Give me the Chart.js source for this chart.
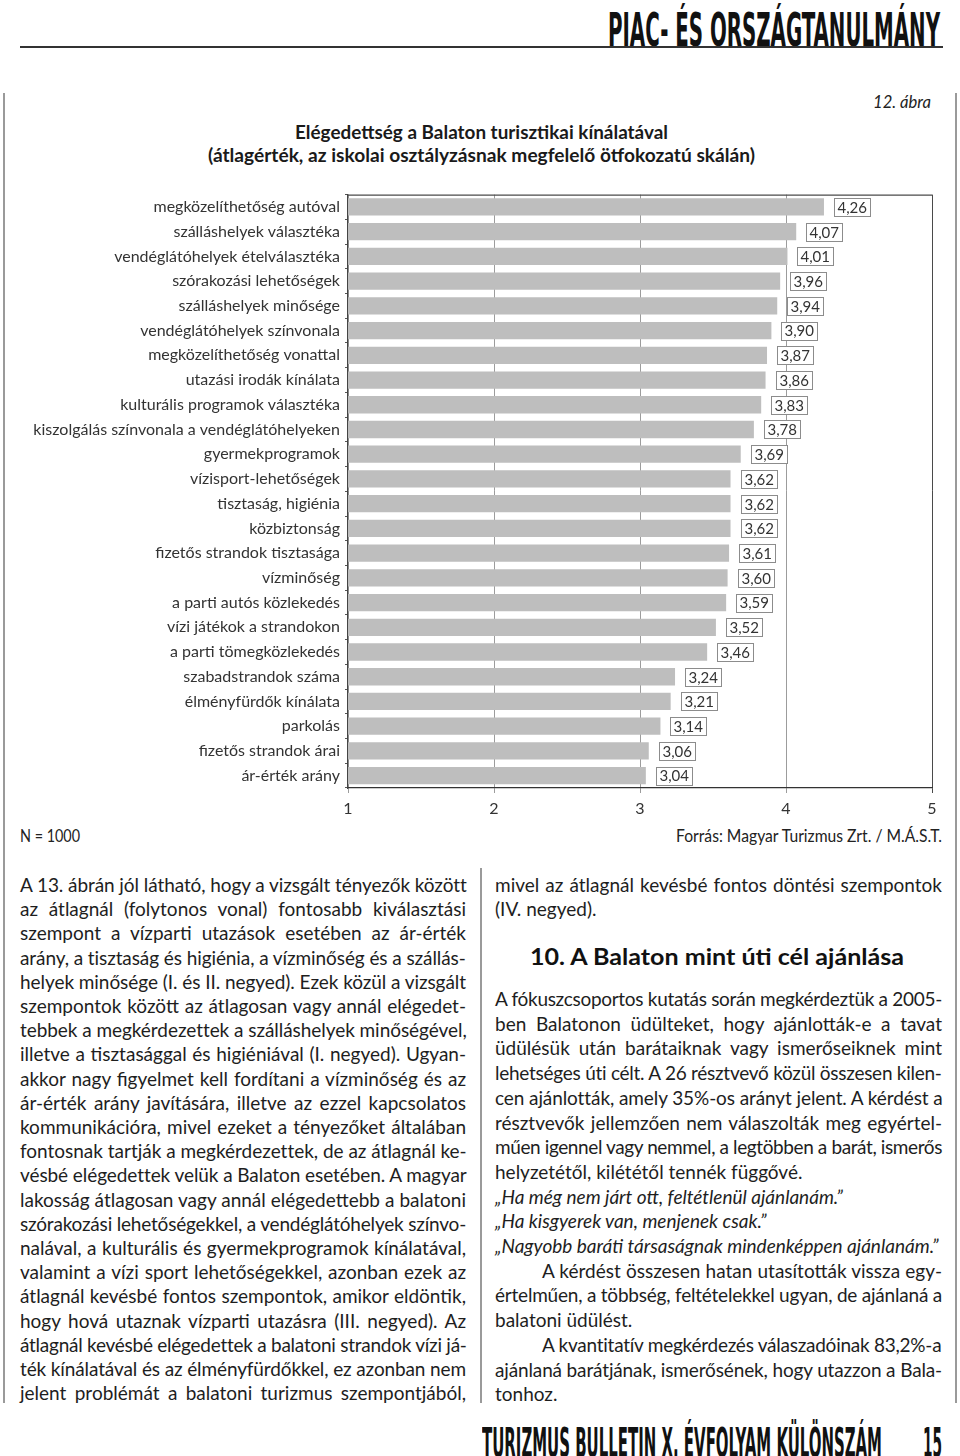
<!DOCTYPE html>
<html lang="hu">
<head>
<meta charset="utf-8">
<title>Elégedettség a Balaton turisztikai kínálatával</title>
<script src="https://cdn.jsdelivr.net/npm/chart.js@4.4.1/dist/chart.umd.min.js"></script>
<style>
  html, body { margin: 0; padding: 0; background: #fff; }
  body { width: 960px; height: 1456px; position: relative; overflow: hidden;
         font-family: Lato, "Open Sans", sans-serif; color: #1e1e1e; }
  .abs { position: absolute; white-space: nowrap; transform-origin: 0 50%; }
  .cond { font-family: "Liberation Sans Narrow", "DejaVu Sans Condensed", "DejaVu Sans", sans-serif;
          font-weight: bold; line-height: 1; color: #111; }
  .vline { position: absolute; width: 2px; background: #9a9a9a; }
  .col { position: absolute; font-size: 19px; }
  .ln { white-space: nowrap; }
  .ln span { display: inline-block; }
  .ind { padding-left: 47px; }
  .it { font-style: italic; }
  #chartBox { position: absolute; left: 0; top: 180px; }
</style>
</head>
<body>

<!-- page header -->
<div class="abs cond" data-w="332" style="left:608px; top:7px; font-size:46px;">PIAC- ÉS ORSZÁGTANULMÁNY</div>
<div style="position:absolute; left:20px; top:46px; width:923px; height:2px; background:#333;"></div>

<!-- frame lines -->
<div class="vline" style="left:3px; top:93px; height:1310px;"></div>
<div class="vline" style="left:955px; top:93px; height:1310px;"></div>
<div class="vline" style="left:480px; top:868px; height:535px;"></div>

<!-- figure heading -->
<div class="abs" data-w="58" style="left:873px; top:91px; font-size:18px; line-height:20px; font-style:italic; color:#222;">12. ábra</div>
<div class="abs" data-w="373" style="left:295px; top:122px; font-size:18px; line-height:20px; font-weight:bold; color:#1a1a1a;">Elégedettség a Balaton turisztikai kínálatával</div>
<div class="abs" data-w="547" style="left:208px; top:145px; font-size:18px; line-height:20px; font-weight:bold; color:#1a1a1a;">(átlagérték, az iskolai osztályzásnak megfelelő ötfokozatú skálán)</div>

<div id="chartBox"><canvas id="chart" width="960" height="640"></canvas></div>

<div class="abs" data-w="60" style="left:20px; top:826px; font-size:17px; line-height:20px; color:#222;">N = 1000</div>
<div class="abs" data-w="266" style="left:676px; top:826px; font-size:17px; line-height:20px; color:#222;">Forrás: Magyar Turizmus Zrt. / M.Á.S.T.</div>

<!-- left text column -->
<div class="col" data-w="446" style="left:20px; top:873px; width:446px; line-height:24.2px;">
  <div class="ln j">A 13. ábrán jól látható, hogy a vizsgált tényezők között</div>
  <div class="ln j">az átlagnál (folytonos vonal) fontosabb kiválasztási</div>
  <div class="ln j">szempont a vízparti utazások esetében az ár-érték</div>
  <div class="ln j">arány, a tisztaság és higiénia, a vízminőség és a szállás-</div>
  <div class="ln j">helyek minősége (I. és II. negyed). Ezek közül a vizsgált</div>
  <div class="ln j">szempontok között az átlagosan vagy annál elégedet-</div>
  <div class="ln j">tebbek a megkérdezettek a szálláshelyek minőségével,</div>
  <div class="ln j">illetve a tisztasággal és higiéniával (I. negyed). Ugyan-</div>
  <div class="ln j">akkor nagy figyelmet kell fordítani a vízminőség és az</div>
  <div class="ln j">ár-érték arány javítására, illetve az ezzel kapcsolatos</div>
  <div class="ln j">kommunikációra, mivel ezeket a tényezőket általában</div>
  <div class="ln j">fontosnak tartják a megkérdezettek, de az átlagnál ke-</div>
  <div class="ln j">vésbé elégedettek velük a Balaton esetében. A magyar</div>
  <div class="ln j">lakosság átlagosan vagy annál elégedettebb a balatoni</div>
  <div class="ln j">szórakozási lehetőségekkel, a vendéglátóhelyek színvo-</div>
  <div class="ln j">nalával, a kulturális és gyermekprogramok kínálatával,</div>
  <div class="ln j">valamint a vízi sport lehetőségekkel, azonban ezek az</div>
  <div class="ln j">átlagnál kevésbé fontos szempontok, amikor eldöntik,</div>
  <div class="ln j">hogy hová utaznak vízparti utazásra (III. negyed). Az</div>
  <div class="ln j">átlagnál kevésbé elégedettek a balatoni strandok vízi já-</div>
  <div class="ln j">ték kínálatával és az élményfürdőkkel, ez azonban nem</div>
  <div class="ln j">jelent problémát a balatoni turizmus szempontjából,</div>
</div>

<!-- right text column -->
<div class="col" data-w="447" style="left:495px; top:873px; width:447px; line-height:24.2px;">
  <div class="ln j">mivel az átlagnál kevésbé fontos döntési szempontok</div>
  <div class="ln">(IV. negyed).</div>
</div>
<div class="abs" data-w="374" style="left:530px; top:943px; font-size:23px; line-height:26px; font-weight:bold; color:#111;">10. A Balaton mint úti cél ajánlása</div>
<div class="col" data-w="447" style="left:495px; top:987px; width:447px; line-height:24.7px;">
  <div class="ln j">A fókuszcsoportos kutatás során megkérdeztük a 2005-</div>
  <div class="ln j">ben Balatonon üdülteket, hogy ajánlották-e a tavat</div>
  <div class="ln j">üdülésük után barátaiknak vagy ismerőseiknek mint</div>
  <div class="ln j">lehetséges úti célt. A 26 résztvevő közül összesen kilen-</div>
  <div class="ln j">cen ajánlották, amely 35%-os arányt jelent. A kérdést a</div>
  <div class="ln j">résztvevők jellemzően nem válaszolták meg egyértel-</div>
  <div class="ln j">műen igennel vagy nemmel, a legtöbben a barát, ismerős</div>
  <div class="ln">helyzetétől, kilététől tennék függővé.</div>
  <div class="ln it">„Ha még nem járt ott, feltétlenül ajánlanám.”</div>
  <div class="ln it">„Ha kisgyerek van, menjenek csak.”</div>
  <div class="ln it">„Nagyobb baráti társaságnak mindenképpen ajánlanám.”</div>
  <div class="ln j ind">A kérdést összesen hatan utasították vissza egy-</div>
  <div class="ln j">értelműen, a többség, feltételekkel ugyan, de ajánlaná a</div>
  <div class="ln">balatoni üdülést.</div>
  <div class="ln j ind">A kvantitatív megkérdezés válaszadóinak 83,2%-a</div>
  <div class="ln j">ajánlaná barátjának, ismerősének, hogy utazzon a Bala-</div>
  <div class="ln">tonhoz.</div>
</div>

<!-- page footer -->
<div class="abs cond" data-w="400" style="left:482px; top:1423px; font-size:41px;">TURIZMUS BULLETIN X. ÉVFOLYAM KÜLÖNSZÁM</div>
<div class="abs cond" data-w="19" style="left:923px; top:1423px; font-size:41px;">15</div>

<script>
// chart data
const categories = [
  "megközelíthetőség autóval",
  "szálláshelyek választéka",
  "vendéglátóhelyek ételválasztéka",
  "szórakozási lehetőségek",
  "szálláshelyek minősége",
  "vendéglátóhelyek színvonala",
  "megközelíthetőség vonattal",
  "utazási irodák kínálata",
  "kulturális programok választéka",
  "kiszolgálás színvonala a vendéglátóhelyeken",
  "gyermekprogramok",
  "vízisport-lehetőségek",
  "tisztaság, higiénia",
  "közbiztonság",
  "fizetős strandok tisztasága",
  "vízminőség",
  "a parti autós közlekedés",
  "vízi játékok a strandokon",
  "a parti tömegközlekedés",
  "szabadstrandok száma",
  "élményfürdők kínálata",
  "parkolás",
  "fizetős strandok árai",
  "ár-érték arány"
];
const averages = [4.26, 4.07, 4.01, 3.96, 3.94, 3.90, 3.87, 3.86, 3.83, 3.78, 3.69, 3.62,
                  3.62, 3.62, 3.61, 3.60, 3.59, 3.52, 3.46, 3.24, 3.21, 3.14, 3.06, 3.04];
const scaleTicks = [1, 2, 3, 4, 5];

// squeeze headings to the width they take in the print
function fitWidths() {
  document.querySelectorAll('.abs[data-w]').forEach(el => {
    const nat = el.getBoundingClientRect().width;
    el.style.transform = 'scaleX(' + (parseFloat(el.dataset.w) / nat) + ')';
  });
}

// justify each printed line to the column width
function justifyLines() {
  document.querySelectorAll('.col').forEach(col => {
    const W = parseFloat(col.dataset.w);
    col.querySelectorAll('.ln').forEach(ln => {
      const span = document.createElement('span');
      span.textContent = ln.textContent.trim();
      ln.textContent = '';
      ln.appendChild(span);
      if (!ln.classList.contains('j')) return;
      const target = W - (ln.classList.contains('ind') ? 47 : 0);
      const nat = span.getBoundingClientRect().width;
      const diff = target - nat;
      const spaces = (span.textContent.match(/ /g) || []).length;
      if (diff >= 0 && spaces) span.style.wordSpacing = (diff / spaces) + 'px';
      else span.style.letterSpacing = (diff / span.textContent.length) + 'px';
    });
  });
}

const topBorder = {
  id: 'topBorder',
  afterDraw(chart) {
    const { ctx, chartArea: a } = chart;
    ctx.save();
    ctx.strokeStyle = '#4a4a4a';
    ctx.lineWidth = 1.2;
    ctx.beginPath();
    ctx.moveTo(a.left, a.top + 0.5);
    ctx.lineTo(a.right, a.top + 0.5);
    ctx.stroke();
    ctx.restore();
  }
};

// boxed value labels at the end of the bars
const valueBoxes = {
  id: 'valueBoxes',
  afterDatasetsDraw(chart) {
    const ctx = chart.ctx;
    const data = chart.data.datasets[0].data;
    ctx.save();
    ctx.font = '15px Lato';
    chart.getDatasetMeta(0).data.forEach((bar, i) => {
      const txt = data[i].toFixed(2).replace('.', ',');
      const tw = ctx.measureText(txt).width;
      const bx = Math.round(bar.x + 10), bw = Math.round(tw + 6), bh = 18;
      const by = Math.round(bar.y - bh / 2);
      ctx.fillStyle = '#fff';
      ctx.fillRect(bx, by, bw, bh);
      ctx.strokeStyle = '#8c8c8c';
      ctx.lineWidth = 1;
      ctx.strokeRect(bx + 0.5, by + 0.5, bw, bh);
      ctx.fillStyle = '#333';
      ctx.textAlign = 'left';
      ctx.textBaseline = 'middle';
      ctx.fillText(txt, bx + 3.5, bar.y + 1);
    });
    ctx.restore();
  }
};

function drawChart() {
  new Chart(document.getElementById('chart'), {
    type: 'bar',
    data: {
      labels: categories,
      datasets: [{
        data: averages,
        backgroundColor: '#bebebe',
        borderWidth: 0,
        barPercentage: 0.7,
        categoryPercentage: 1
      }]
    },
    options: {
      indexAxis: 'y',
      responsive: false,
      animation: false,
      layout: { padding: { top: 10, right: 28, left: 0, bottom: 0 } },
      plugins: { legend: { display: false }, tooltip: { enabled: false } },
      scales: {
        x: {
          type: 'linear',
          min: scaleTicks[0],
          max: scaleTicks[scaleTicks.length - 1],
          afterBuildTicks: axis => { axis.ticks = scaleTicks.map(v => ({ value: v })); },
          grid: {
            color: c => (c.tick && c.tick.value === 5) ? '#4a4a4a' : '#9c9c9c',
            lineWidth: 1,
            tickLength: 5
          },
          border: { color: '#333', width: 1.2 },
          ticks: { font: { family: 'Lato', size: 16 }, color: '#333', padding: 6 },
          afterFit: s => { s.height = 32; }
        },
        y: {
          grid: { offset: true, drawOnChartArea: false, tickLength: 3, color: '#555' },
          border: { color: '#444', width: 1.2 },
          ticks: { font: { family: 'Lato', size: 16 }, color: '#333', padding: 5, autoSkip: false },
          afterFit: s => { s.width = 348; }
        }
      }
    },
    plugins: [topBorder, valueBoxes]
  });
}

window.addEventListener('load', () => {
  justifyLines();
  fitWidths();
  drawChart();
});
</script>
</body>
</html>
